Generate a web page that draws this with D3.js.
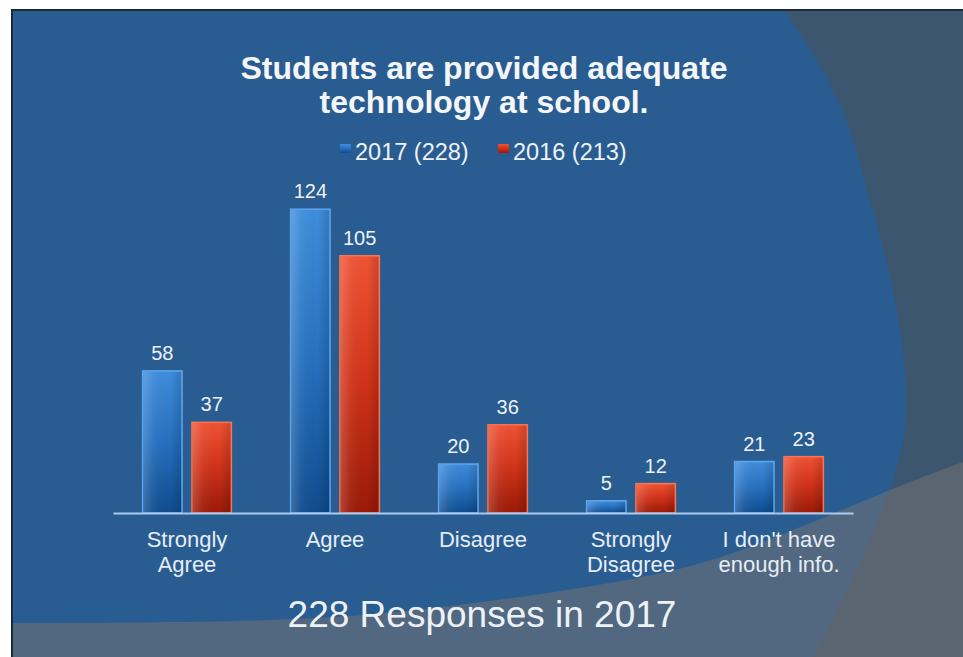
<!DOCTYPE html>
<html lang="en">
<head>
    <meta charset="UTF-8">
    <title>Students are provided adequate technology at school.</title>
    <script src="https://d3js.org/d3.v7.min.js"></script>
    <style>
        html, body { margin: 0; padding: 0; background: #fff; }
        svg { display: block; }
        text { font-family: "Liberation Sans", Arial, sans-serif; fill: #f2f5f8; }
    </style>
</head>
<body>
    <svg width="963" height="657"></svg>

    <script>
        const width = 963;
        const height = 657;

        // datos
        const categories = [["Strongly", "Agree"], ["Agree"], ["Disagree"], ["Strongly", "Disagree"], ["I don't have", "enough info."]];
        const seriesNames = ["2017 (228)", "2016 (213)"];
        const values2017 = [58, 124, 20, 5, 21];
        const values2016 = [37, 105, 36, 12, 23];
        const titleLines = ["Students are provided adequate", "technology at school."];
        const footer = "228 Responses in 2017";

        const svg = d3.select("svg")
            .attr("width", width)
            .attr("height", height);

        const defs = svg.append("defs");

        function vGrad(id, stops) {
            const g = defs.append("linearGradient")
                .attr("id", id)
                .attr("x1", 0).attr("y1", 0).attr("x2", 0).attr("y2", 1);
            stops.forEach(s => g.append("stop").attr("offset", s[0]).attr("stop-color", s[1]));
        }
        vGrad("blueFill", [[0, "#3f8ddc"], [0.5, "#2670bf"], [1, "#0f4c8e"]]);
        vGrad("redFill", [[0, "#ef5334"], [0.5, "#cf3219"], [1, "#9a1a08"]]);

        // brillo lateral de las barras
        const gloss = defs.append("linearGradient")
            .attr("id", "gloss")
            .attr("x1", 0).attr("y1", 0).attr("x2", 1).attr("y2", 0);
        gloss.append("stop").attr("offset", 0).attr("stop-color", "#fff").attr("stop-opacity", 0.18);
        gloss.append("stop").attr("offset", 0.25).attr("stop-color", "#fff").attr("stop-opacity", 0.05);
        gloss.append("stop").attr("offset", 0.7).attr("stop-color", "#000").attr("stop-opacity", 0.0);
        gloss.append("stop").attr("offset", 1).attr("stop-color", "#000").attr("stop-opacity", 0.15);

        // fondo de la diapositiva
        svg.append("rect")
            .attr("x", 12).attr("y", 10)
            .attr("width", width - 12).attr("height", height - 10)
            .attr("fill", "#295c91");

        const curve = d3.line().curve(d3.curveNatural);

        const arcRight = [[784, 10], [838, 100], [870, 200], [895, 300], [906, 400], [893, 480], [854, 575], [812, 657]];
        svg.append("path")
            .attr("d", curve(arcRight) + `L${width},${height}L${width},10Z`)
            .attr("fill", "rgb(81,81,81)")
            .attr("fill-opacity", 0.52);

        const arcLow = [[12, 623], [270, 620], [450, 606], [637, 578], [760, 543], [883, 493], [963, 462]];
        svg.append("path")
            .attr("d", curve(arcLow) + `L${width},${height}L12,${height}Z`)
            .attr("fill", "rgb(115,115,115)")
            .attr("fill-opacity", 0.55);

        // borde
        svg.append("path")
            .attr("d", `M12,${height}L12,10L${width},10`)
            .attr("fill", "none")
            .attr("stroke", "#1b2a3b")
            .attr("stroke-width", 2);

        // escalas
        const x0 = d3.scaleBand()
            .domain(d3.range(categories.length))
            .range([113, 853])
            .paddingInner(0.4)
            .paddingOuter(0.2);

        const x1 = d3.scaleBand()
            .domain([0, 1])
            .range([0, x0.bandwidth()])
            .paddingInner(0.2);

        const y = d3.scaleLinear()
            .domain([0, 140])
            .range([513, 170]);

        const fills = ["url(#blueFill)", "url(#redFill)"];
        const strokes = ["#5da5ee", "#f67658"];
        const series = [values2017, values2016];

        series.forEach((vals, si) => {
            const g = svg.append("g");
            g.selectAll("rect.bar")
                .data(vals)
                .enter().append("rect")
                .attr("class", "bar")
                .attr("x", (d, i) => x0(i) + x1(si))
                .attr("y", d => y(d))
                .attr("width", x1.bandwidth())
                .attr("height", d => y(0) - y(d))
                .attr("fill", fills[si])
                .attr("stroke", strokes[si])
                .attr("stroke-width", 1.5);

            g.selectAll("rect.gloss")
                .data(vals)
                .enter().append("rect")
                .attr("class", "gloss")
                .attr("x", (d, i) => x0(i) + x1(si) + 1)
                .attr("y", d => y(d) + 1)
                .attr("width", x1.bandwidth() - 2)
                .attr("height", d => Math.max(0, y(0) - y(d) - 2))
                .attr("fill", "url(#gloss)");

            g.selectAll("text")
                .data(vals)
                .enter().append("text")
                .attr("x", (d, i) => x0(i) + x1(si) + x1.bandwidth() / 2)
                .attr("y", d => y(d) - 11)
                .attr("text-anchor", "middle")
                .style("font-size", "20px")
                .style("fill", "#eef2f7")
                .text(d => d);
        });

        // eje x
        const xAxis = d3.axisBottom(x0).tickSize(0).tickFormat("");
        const axisG = svg.append("g")
            .attr("transform", `translate(0,${y(0)})`)
            .call(xAxis);
        axisG.select(".domain")
            .attr("stroke", "#a9cbef")
            .attr("stroke-width", 2);

        const labels = svg.append("g");
        categories.forEach((lines, i) => {
            const t = labels.append("text")
                .attr("x", x0(i) + x0.bandwidth() / 2)
                .attr("y", 547)
                .attr("text-anchor", "middle")
                .style("font-size", "22px")
                .style("fill", "#e6edf5");
            lines.forEach((ln, j) => {
                t.append("tspan")
                    .attr("x", x0(i) + x0.bandwidth() / 2)
                    .attr("dy", j === 0 ? 0 : 25)
                    .text(ln);
            });
        });

        // título
        titleLines.forEach((ln, j) => {
            svg.append("text")
                .attr("x", 484)
                .attr("y", 79 + j * 34)
                .attr("text-anchor", "middle")
                .style("font-size", "32px")
                .style("font-weight", "bold")
                .style("fill", "#f4f6f9")
                .text(ln);
        });

        // leyenda
        const legendX = [340, 498];
        seriesNames.forEach((name, si) => {
            svg.append("rect")
                .attr("x", legendX[si]).attr("y", 144)
                .attr("width", 11).attr("height", 9)
                .attr("fill", fills[si]);
            svg.append("text")
                .attr("x", legendX[si] + 15)
                .attr("y", 160)
                .style("font-size", "23.5px")
                .style("fill", "#eef2f7")
                .text(name);
        });

        // pie
        svg.append("text")
            .attr("x", 482)
            .attr("y", 627)
            .attr("text-anchor", "middle")
            .style("font-size", "37px")
            .style("fill", "#eef1f5")
            .text(footer);
    </script>
</body>
</html>
